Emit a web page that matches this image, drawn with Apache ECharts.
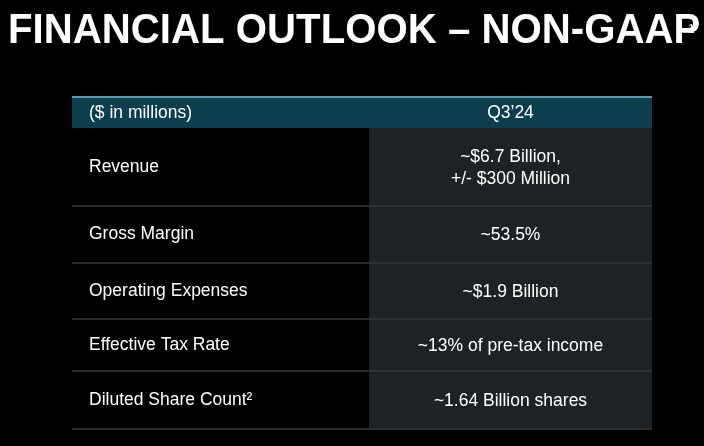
<!DOCTYPE html><html><head><meta charset="utf-8">
<script src="https://cdn.jsdelivr.net/npm/echarts@6/dist/echarts.min.js"></script>
<style>html,body{margin:0;background:#000}#c{width:704px;height:446px}</style></head><body><div id="c"></div>
<script>
const title = "FINANCIAL OUTLOOK – NON-GAAP";
const headers = ["($ in millions)", "Q3’24"];
const rowLabels = ["Revenue","Gross Margin","Operating Expenses","Effective Tax Rate","Diluted Share Count²"];
const rowValues = ["~$6.7 Billion,\n+/- $300 Million","~53.5%","~$1.9 Billion","~13% of pre-tax income","~1.64 Billion shares"];
const rowEdges = [128,206,263,319,371,429];
const L=72,M=369,R=652,F='Arial, "Liberation Sans", Helvetica, sans-serif';
const g=[];
g.push({type:'text',x:8,y:10,scaleX:0.935,style:{text:title,fill:'#fff',font:'bold 43px '+F}});
g.push({type:'text',x:688,y:24,style:{text:'1',fill:'#fff',font:'12px '+F}});
g.push({type:'rect',shape:{x:L,y:97,width:R-L,height:31},style:{fill:'#0d3e4e'}});
g.push({type:'rect',shape:{x:L,y:96,width:R-L,height:2},style:{fill:'#5b9db0'}});
g.push({type:'text',x:89,y:113,style:{text:headers[0],fill:'#fff',font:'17.5px '+F,verticalAlign:'middle'}});
g.push({type:'text',x:(M+R)/2,y:113,style:{text:headers[1],fill:'#fff',font:'17.5px '+F,align:'center',verticalAlign:'middle'}});
g.push({type:'rect',shape:{x:M,y:128,width:R-M,height:301},style:{fill:'#1e2225'}});
rowLabels.forEach((t,i)=>{
  const yc=(rowEdges[i]+rowEdges[i+1])/2;
  g.push({type:'text',x:89,y:yc,style:{text:t,fill:'#fff',font:'17.5px '+F,verticalAlign:'middle'}});
  g.push({type:'text',x:(M+R)/2,y:yc+1,style:{text:rowValues[i],fill:'#fff',font:'17.5px '+F,align:'center',verticalAlign:'middle',lineHeight:22}});
  g.push({type:'line',shape:{x1:L,y1:rowEdges[i+1],x2:R,y2:rowEdges[i+1]},style:{stroke:'#34383b',lineWidth:1.5}});
});
const ch=echarts.init(document.getElementById('c'));
ch.setOption({backgroundColor:'#000',graphic:g});
</script></body></html>
